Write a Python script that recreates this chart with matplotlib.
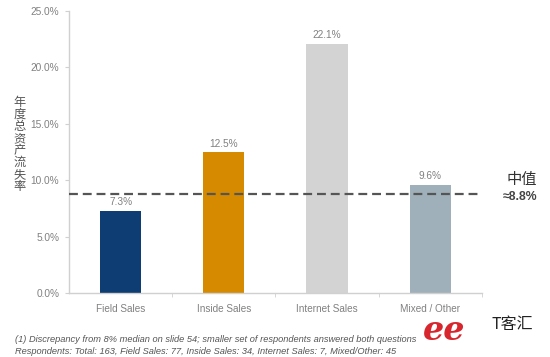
import matplotlib.pyplot as plt
from matplotlib.ticker import FuncFormatter, FixedLocator

plt.rcParams['font.family'] = ['Liberation Sans', 'Noto Sans CJK SC', 'DejaVu Sans']

categories = ['Field Sales', 'Inside Sales', 'Internet Sales', 'Mixed / Other']
values = [7.3, 12.5, 22.1, 9.6]
colors = ['#0e3d73', '#d68a00', '#d3d3d3', '#9fb0ba']
median = 8.8
yticks = [0, 5, 10, 15, 20, 25]

fig = plt.figure(figsize=(5.5, 3.57), dpi=100)
ax = fig.add_axes([0.1255, 0.179, 0.7505, 0.79])

x = list(range(len(categories)))
bars = ax.bar(x, values, width=0.4, color=colors, zorder=2)
for b, v in zip(bars, values):
    ax.annotate(f'{v:.1f}%', (b.get_x() + b.get_width() / 2, v),
                xytext=(0, 2.5), textcoords='offset points',
                ha='center', va='bottom', fontsize=7.3, color='#808080')

ax.axhline(median, color='#555555', linestyle=(0, (4, 2.2)), linewidth=1.6, zorder=3)

ax.set_xlim(-0.5, len(categories) - 0.5)
ax.set_ylim(0, 25)
ax.set_yticks(yticks)
ax.yaxis.set_major_formatter(FuncFormatter(lambda v, p: f'{v:.1f}%'))
ax.set_xticks(x)
ax.set_xticklabels(categories)
ax.xaxis.set_minor_locator(FixedLocator([i + 0.5 for i in x]))
ax.tick_params(axis='x', which='major', length=0, pad=8, labelsize=7.2, labelcolor='#808080')
ax.tick_params(axis='x', which='minor', length=3, color='#d0d0d0')
ax.tick_params(axis='y', length=3, color='#d0d0d0', labelsize=7.3, labelcolor='#808080', pad=4)

for s in ['top', 'right']:
    ax.spines[s].set_visible(False)
for s in ['left', 'bottom']:
    ax.spines[s].set_color('#d0d0d0')
    ax.spines[s].set_linewidth(1.0)

fig.text(20 / 550, 1 - 145 / 357, '\n'.join('年度总资产流失率'), ha='center', va='center',
         fontsize=8.8, color='#555555', linespacing=1.0)
fig.text(522 / 550, 1 - 180 / 357, '中值', ha='center', va='center', fontsize=11, color='#333333')
fig.text(520 / 550, 1 - 197 / 357, '≈8.8%', ha='center', va='center', fontsize=8.8,
         fontweight='bold', color='#444444', family=['Liberation Sans', 'DejaVu Sans'])

fig.text(15 / 550, 1 - 339 / 357,
         '(1) Discrepancy from 8% median on slide 54; smaller set of respondents answered both questions',
         ha='left', va='center', fontsize=6.7, style='italic', color='#555555')
fig.text(15 / 550, 1 - 351 / 357,
         'Respondents: Total: 163, Field Sales: 77, Inside Sales: 34, Internet Sales: 7, Mixed/Other: 45',
         ha='left', va='center', fontsize=6.7, style='italic', color='#555555')

# watermark
fig.text(444 / 550, 1 - 330 / 357, 'ee', ha='center', va='center', fontsize=24,
         style='italic', fontweight='bold', color='#d8262e', family='DejaVu Serif')
fig.text(512 / 550, 1 - 325 / 357, 'T客汇', ha='center', va='center', fontsize=11.5,
         color='#222222', family=['Noto Sans CJK SC', 'DejaVu Sans'])

fig.savefig('out.png', dpi=100)
